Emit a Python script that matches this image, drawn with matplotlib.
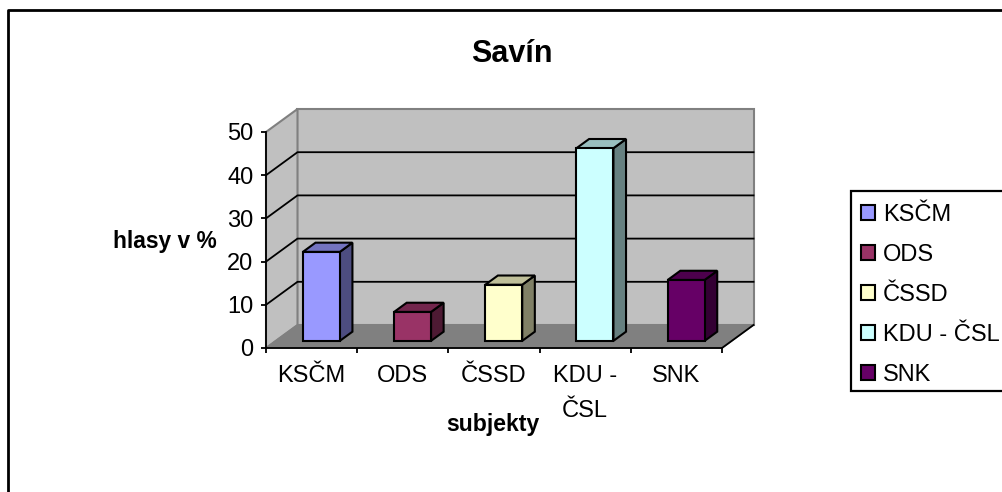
import numpy as np
import matplotlib
matplotlib.use('Agg')
import matplotlib.pyplot as plt
from matplotlib.colors import to_rgb
from matplotlib.patches import Patch, Polygon, Rectangle

plt.rcParams['font.family'] = ['Liberation Sans', 'DejaVu Sans']

categories = ['KSČM', 'ODS', 'ČSSD', 'KDU - ČSL', 'SNK']
tick_labels = ['KSČM', 'ODS', 'ČSSD', 'KDU -\nČSL', 'SNK']
values = [20.6, 6.7, 13.0, 44.6, 14.1]
colors = ['#9999FF', '#993366', '#FFFFCC', '#CCFFFF', '#660066']
yticks = [0, 10, 20, 30, 40, 50]

W, H = 1003, 492
# oblique depth of the fake 3d box, in data units per unit of depth
DX = 31.5 / 91.2
DY = 23 / 4.32
BAR_W = 0.405
D0, D1 = 0.31, 0.71


def proj(x, y, d):
    return (x + DX * d, y + DY * d)


def shade(c, f):
    return tuple(v * f for v in to_rgb(c))


fig = plt.figure(figsize=(W / 100, H / 100), dpi=100)
ax = fig.add_axes([266 / W, (H - 348) / H, 456 / W, 216 / H])
ax.set_xlim(0, 5)
ax.set_ylim(0, 50)
ax.patch.set_visible(False)

# outer chart border, only top and left are inside the picture
fig.add_artist(plt.Line2D([8.5 / W, 8.5 / W, 1], [0, (H - 9.5) / H, (H - 9.5) / H],
                          color='black', lw=2, transform=fig.transFigure))

# walls and floor
ax.add_patch(Polygon([proj(0, 0, 1), proj(5, 0, 1), proj(5, 50, 1), proj(0, 50, 1)], closed=True,
                     fc='#C0C0C0', ec='#808080', lw=1.5, clip_on=False, zorder=1))
ax.add_patch(Polygon([proj(0, 0, 0), proj(0, 0, 1), proj(0, 50, 1), proj(0, 50, 0)], closed=True,
                     fc='#C0C0C0', ec='#808080', lw=1.5, clip_on=False, zorder=1))
ax.add_patch(Polygon([proj(0, 0, 0), proj(5, 0, 0), proj(5, 0, 1), proj(0, 0, 1)], closed=True,
                     fc='#808080', ec='#808080', lw=1, clip_on=False, zorder=1))

# gridlines on back wall and side wall
for t in yticks[1:-1]:
    xs, ys = zip(proj(0, t, 0), proj(0, t, 1), proj(5, t, 1))
    ax.plot(xs, ys, color='black', lw=1.3, clip_on=False, zorder=2)
xs, ys = zip(proj(5, 0, 0), proj(5, 0, 1))
ax.plot(xs, ys, color='black', lw=1.3, clip_on=False, zorder=2)

# bars
for i, (v, c) in enumerate(zip(values, colors)):
    x0 = i + 0.5 - BAR_W / 2
    x1 = i + 0.5 + BAR_W / 2
    side = [proj(x1, 0, D0), proj(x1, 0, D1), proj(x1, v, D1), proj(x1, v, D0)]
    top = [proj(x0, v, D0), proj(x1, v, D0), proj(x1, v, D1), proj(x0, v, D1)]
    front = [proj(x0, 0, D0), proj(x1, 0, D0), proj(x1, v, D0), proj(x0, v, D0)]
    for pts, f in [(side, 0.5), (top, 0.75), (front, 1.0)]:
        ax.add_patch(Polygon(pts, closed=True, fc=shade(c, f), ec='black', lw=1.5,
                             joinstyle='miter', clip_on=False, zorder=3 + i))

# axes
for s in ['top', 'right']:
    ax.spines[s].set_visible(False)
for s in ['left', 'bottom']:
    ax.spines[s].set_linewidth(1.3)
    ax.spines[s].set_zorder(20)
ax.set_yticks(yticks)
ax.set_xticks(np.arange(0, 6))
ax.set_xticklabels([])
ax.set_xticks(np.arange(5) + 0.5, tick_labels, minor=True)
ax.tick_params(axis='x', which='major', length=3.6, width=1.3, direction='out')
ax.tick_params(axis='x', which='minor', length=0, pad=12.5, labelsize=17)
ax.tick_params(axis='y', length=3.6, width=1.3, direction='out', pad=5.5, labelsize=17)
for lab in ax.get_xticklabels(minor=True):
    lab.set_linespacing(1.72)

# titles
fig.text(512 / W, (H - 54) / H, 'Savín', ha='center', va='center', fontsize=22, fontweight='bold')
fig.text(165 / W, (H - 242) / H, 'hlasy v %', ha='center', va='center', fontsize=16.4, fontweight='bold')
fig.text(493 / W, (H - 425) / H, 'subjekty', ha='center', va='center', fontsize=16.6, fontweight='bold')

# legend, the box runs past the right edge of the picture
fig.add_artist(Rectangle((851 / W, (H - 391) / H), 170 / W, 200 / H, fc='white', ec='black', lw=1.6,
                         transform=fig.transFigure))
handles = [Patch(fc=c, ec='black', lw=1.5) for c in colors]
leg = fig.legend(handles, categories, loc='upper left', bbox_to_anchor=(861 / W, (H - 204) / H),
                 fontsize=17, frameon=False, borderaxespad=0, borderpad=0, labelspacing=0.765,
                 handlelength=0.6, handleheight=0.6, handletextpad=0.34)
leg.set_zorder(5)

fig.savefig('out.png', dpi=100)
